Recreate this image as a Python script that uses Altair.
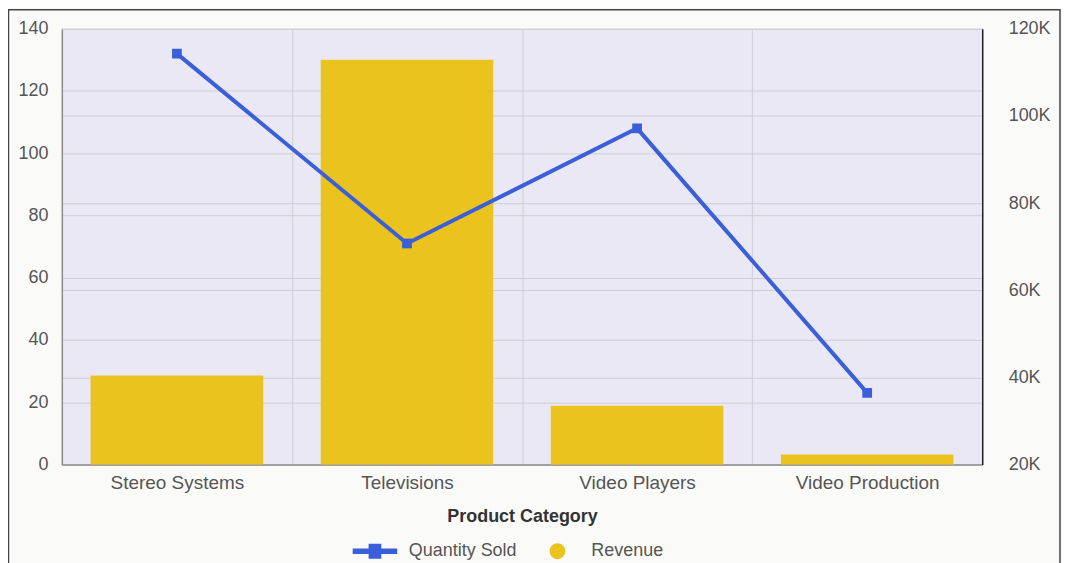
import altair as alt
import pandas as pd

categories = ["Stereo Systems", "Televisions", "Video Players", "Video Production"]
quantity_sold = [132, 71, 108, 23]
revenue = [40400, 112900, 33500, 22300]
series_names = ["Quantity Sold", "Revenue"]
qty_ticks = [0, 20, 40, 60, 80, 100, 120, 140]
rev_ticks = [20000, 40000, 60000, 80000, 100000, 120000]
rev_base = 20000

BLUE = "#3A5FD8"
GOLD = "#EBC31E"
GRID = "#CFCED6"
FONT = "Liberation Sans"
LEGEND_LINE = ("M-2.8,-0.36L2.8,-0.36L2.8,0.36L-2.8,0.36Z"
               "M-0.8,-0.95L0.8,-0.95L0.8,0.95L-0.8,0.95Z")

df = pd.DataFrame({"Category": categories, "Quantity": quantity_sold, "Revenue": revenue})
legend_df = pd.DataFrame({"Series": series_names,
                          "Category": [categories[0], categories[0]],
                          "Quantity": [0, 0]})

x = alt.X("Category:N", sort=categories, title="Product Category",
          scale=alt.Scale(paddingInner=0, paddingOuter=0),
          axis=alt.Axis(labelAngle=0, tickBand="extent", grid=True, gridColor=GRID,
                        ticks=False, tickSize=0, domainColor="#8C8C8C", domainWidth=1.5,
                        labelFontSize=19, labelColor="#555555", labelPadding=9,
                        titleFontSize=18, titleFontWeight="bold", titleColor="#333333",
                        titlePadding=15))

bars = alt.Chart(df).mark_bar(color=GOLD, width=alt.RelativeBandSize(0.75)).encode(
    x=x,
    y=alt.Y("Revenue:Q",
            scale=alt.Scale(domain=[20000, 120000], zero=False, nice=False),
            axis=alt.Axis(orient="right", values=rev_ticks,
                          labelExpr="datum.value / 1000 + 'K'", title=None,
                          grid=True, gridColor=GRID, ticks=False, tickSize=0,
                          domainColor="#222222", domainWidth=1.5, labelPadding=26,
                          labelFontSize=18, labelColor="#555555")),
    y2=alt.datum(rev_base),
)

line = alt.Chart(df).mark_line(color=BLUE, strokeWidth=4).encode(
    x=x,
    y=alt.Y("Quantity:Q",
            scale=alt.Scale(domain=[0, 140], nice=False),
            axis=alt.Axis(orient="left", values=qty_ticks, title=None, grid=True,
                          gridColor=GRID, ticks=False, tickSize=0,
                          domainColor="#8C8C8C", domainWidth=1.5, labelPadding=14,
                          labelFontSize=18, labelColor="#555555")),
)

pts = alt.Chart(df).mark_point(shape="square", filled=True, size=95, color=BLUE,
                               opacity=1).encode(x=x, y=alt.Y("Quantity:Q"))

leg = alt.Legend(title=None, orient="none", legendX=305, legendY=515,
                 direction="horizontal", symbolSize=254, symbolStrokeWidth=0,
                 symbolOpacity=1,
                 labelFontSize=18, labelColor="#555555", labelOffset=25,
                 columnPadding=31, padding=0)

legend_layer = alt.Chart(legend_df).mark_point(filled=True, opacity=0).encode(
    x=x,
    y=alt.Y("Quantity:Q"),
    color=alt.Color("Series:N", scale=alt.Scale(domain=series_names, range=[BLUE, GOLD]),
                    legend=leg),
    shape=alt.Shape("Series:N",
                    scale=alt.Scale(domain=series_names, range=[LEGEND_LINE, "circle"]),
                    legend=leg),
)

frame = alt.Chart(alt.Data(values=[{}])).mark_rect(
    fillOpacity=0, stroke="#444444", strokeWidth=1.5
).encode(x=alt.value(-53.5), x2=alt.value(1001), y=alt.value(-19), y2=alt.value(700))

left = alt.layer(line, pts, legend_layer)

chart = alt.layer(bars, left, frame).resolve_scale(y="independent").properties(
    width=923, height=437,
    autosize=alt.AutoSizeParams(type="none"),
    padding={"left": 54, "top": 20, "right": 80, "bottom": 98},
    background="#FAFBF9",
).configure(font=FONT).configure_view(fill="#EAE8F4", stroke="transparent")

chart.save("out.html", embed_options={"renderer": "svg", "actions": False})
